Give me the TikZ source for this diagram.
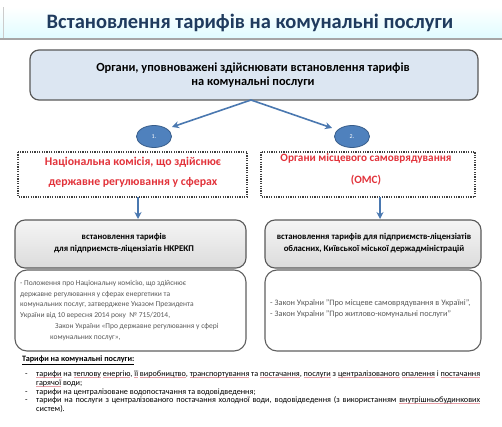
\documentclass[tikz,border=0pt]{standalone}
\usepackage{fontspec}
\setmainfont{Carlito}
\usetikzlibrary{arrows.meta,calc,shapes.geometric}
\definecolor{titlec}{HTML}{1F3B5E}
\definecolor{arrowc}{HTML}{4A78B0}
\definecolor{circf}{HTML}{4F81BD}
\definecolor{circd}{HTML}{385D8A}
\definecolor{boxblue}{HTML}{DCE6F2}
\definecolor{darkedge}{HTML}{595959}
\definecolor{redtxt}{HTML}{E2333B}
\definecolor{graytxt}{HTML}{595959}
\definecolor{spellc}{HTML}{E8A0A8}
\newcommand\spk[1]{\setbox0\hbox{#1}\rlap{\color{spellc}\rule[-1.4pt]{\wd0}{0.6pt}}\box0\relax}
\tikzset{
  conn/.style={draw=arrowc,line width=1.6pt,-{Stealth[length=7pt,width=7pt]}},
  numc/.style={ellipse,fill=circf,draw=circd,line width=0.8pt,minimum width=35pt,minimum height=22pt,inner sep=0pt,text=white,font=\fontsize{6}{7}\selectfont},
  dotbox/.style={draw=black!75,line width=1.4pt,dash pattern=on 1.2pt off 1.2pt},
  graybox/.style={draw=darkedge,line width=1.1pt,rounded corners=10pt,top color=gray!8,bottom color=gray!28},
  whitebox/.style={draw=gray!75!black,line width=1.1pt,rounded corners=12pt,fill=white},
  btxt/.style={font=\fontsize{8.2}{9}\selectfont,inner sep=0pt},
}
\begin{document}
\begin{tikzpicture}[x=1pt,y=-1pt]
\useasboundingbox (0,0) rectangle (502,427);
\fill[white] (0,0) rectangle (502,427);
% title bar
\shade[top color=white,bottom color=blue!10!cyan!12!white] (0,7) rectangle (502,38);
\fill[gray!70] (0,38) rectangle (502,40.5);
\draw[gray!40] (3,7) -- (3,38);
\node[font=\fontsize{20.5}{22}\selectfont\bfseries,text=titlec] (title) at (250,23) {Встановлення тарифів на комунальні послуги};
% top box
\draw[fill=boxblue,draw=darkedge,line width=1.2pt,rounded corners=9pt] (30,50) rectangle (478,100);
\node[font=\fontsize{12.4}{14}\selectfont\bfseries,align=center] (top) at (253,75.5) {Органи, уповноважені здійснювати встановлення тарифів\\на комунальні послуги};
\coordinate (tb) at (251,100);
% circles
\node[numc] (c1) at (154,136.5) {1.};
\node[numc] (c2) at (352,136.5) {2.};
\coordinate (t1) at (172,127);
\coordinate (t2) at (332,128);
\draw[conn] (tb) -- (t1);
\draw[conn] (tb) -- (t2);
% dotted boxes
\draw[dotbox] (18,152) rectangle (247,197);
\draw[dotbox] (261,152) rectangle (475,197);
\node[font=\fontsize{11.8}{20}\selectfont\bfseries,text=redtxt,align=center] (n1) at (133,172.5) {Національна комісія, що здійснює\\державне регулювання у сферах};
\node[font=\fontsize{11.2}{22.5}\selectfont\bfseries,text=redtxt,align=center] (n2) at (366,169.5) {Органи місцевого самоврядування\\(ОМС)};
\coordinate (d1a) at (138,197);
\coordinate (d1b) at (138,219);
\coordinate (d2a) at (380,197);
\coordinate (d2b) at (380,219);
\draw[conn] (d1a) -- (d1b);
\draw[conn] (d2a) -- (d2b);
% gray boxes
\draw[graybox] (15,220) rectangle (246,268);
\draw[graybox] (265,220) rectangle (481,268);
\node[font=\fontsize{8.8}{12}\selectfont\bfseries,align=center] (g1) at (124,243.5) {встановлення тарифів\\для підприємств-ліцензіатів НКРЕКП};
\node[font=\fontsize{8.8}{12}\selectfont\bfseries,align=center] (g2) at (374,243.5) {встановлення тарифів для підприємств-ліцензіатів\\обласних, Київської міської держадміністрацій};
% white boxes
\draw[whitebox] (15,270) rectangle (246,351);
\draw[whitebox] (265,270) rectangle (481,351);
\node[font=\fontsize{7.5}{10.8}\selectfont,text=graytxt,align=left,anchor=north west,inner sep=0pt] (w1) at (20,280) {- Положення про Національну комісію, що здійснює\\державне регулювання у сферах енергетики та\\комунальних послуг, затверджене Указом Президента\\України від 10 вересня 2014 року~~№ 715/2014,\\\hspace*{35pt}Закон України «Про державне регулювання у сфері\\\hspace*{30pt}комунальних послуг»,};
\node[font=\fontsize{8.3}{11}\selectfont,text=graytxt,align=left,anchor=north west,inner sep=0pt] (w2) at (270,299) {- Закон України "Про місцеве самоврядування в Україні",\\- Закон України "Про житлово-комунальні послуги"};
% bottom text
\node[btxt,font=\fontsize{8.2}{9}\selectfont\bfseries,anchor=west] (h) at (22,360.5) {\underline{Тарифи на комунальні послуги:}};
\node[btxt,anchor=base west] (b1d) at (25,376.5) {-};
\node[btxt,anchor=base west] (b2d) at (25,394.5) {-};
\node[btxt,anchor=base west] (b3d) at (25,402.5) {-};
\node[btxt,anchor=base west,text width=444pt,align=justify] (b1) at (36,376.5) {\spk{тарифи} на \spk{теплову} \spk{енергію}, \spk{її} \spk{виробництво}, \spk{транспортування} та \spk{постачання}, \spk{послуги} з \spk{централізованого} \spk{опалення} і \spk{постачання} \spk{гарячої} води;};
\node[btxt,anchor=base west] (b2) at (36,394.5) {тарифи на централізоване водопостачання та водовідведення;};
\node[btxt,anchor=base west,text width=444pt,align=justify] (b3) at (36,402.5) {тарифи на послуги з централізованого постачання холодної води, водовідведення (з використанням \spk{внутрішньобудинкових} систем).};
\end{tikzpicture}
\end{document}
